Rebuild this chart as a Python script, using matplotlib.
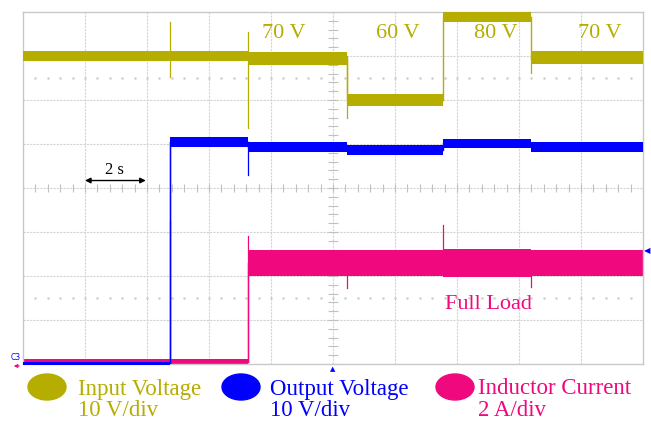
import numpy as np
import matplotlib.pyplot as plt
from matplotlib.patches import Ellipse, FancyArrowPatch

# ---- data ----
# time base 2 s/div, Vin and Vout 10 V/div, iL 2 A/div
t_edges = [0.0, 4.74, 7.26, 10.45, 13.55, 16.39, 20.0]

vin_level = [70.0, 70.0, 69.4, 60.0, 78.8, 69.6]      # V
vin_band = [1.2, 1.2, 1.5, 1.3, 1.1, 1.5]
vout_level = [0.0, 50.4, 49.3, 48.7, 50.2, 49.3]     # V
vout_band = [0.4, 1.1, 1.1, 1.1, 1.0, 1.1]
il_level = [0.1, 0.1, 4.6, 4.6, 4.6, 4.6]            # A
il_band = [0.15, 0.15, 0.6, 0.6, 0.65, 0.6]

# (time, low, high) transient spikes
vin_spikes = [(4.74, 65.2, 77.7), (7.26, 53.6, 75.5), (10.45, 55.9, 70.0), (16.39, 66.1, 70.0)]
vout_spikes = [(4.74, 0.0, 50.4), (7.26, 43.0, 50.4)]
il_spikes = [(4.74, 0.0, 6.5), (7.26, 0.1, 5.8), (13.55, 4.6, 6.3), (10.45, 3.45, 4.6), (16.39, 3.5, 4.6)]

step_labels = ['70 V', '60 V', '80 V', '70 V']
step_label_t = [8.4, 12.1, 15.25, 18.6]

c_in = '#b5ad00'
c_out = '#0000ff'
c_il = '#f0087f'

V_DIV = 10.0
A_DIV = 2.0
T_DIV = 2.0

W, H = 651, 425
fig = plt.figure(figsize=(W / 100, H / 100), dpi=100)
ax = fig.add_axes([23 / W, (H - 364) / H, 620 / W, 352 / H])
ax.set_xlim(0, 10)
ax.set_ylim(0, 8)
ax.set_xticks([])
ax.set_yticks([])
for s in ax.spines.values():
    s.set_color('#c8c8c8')
    s.set_linewidth(1.0)

# graticule
for i in range(1, 10):
    ax.axvline(i, color='#d4d4d4', lw=0.8, ls=(0, (2, 1)), zorder=0)
for j in range(1, 8):
    ax.axhline(j, color='#d4d4d4', lw=0.8, ls=(0, (2, 1)), zorder=0)
minor_x = np.arange(0, 10.01, 0.2)
minor_y = np.arange(0, 8.01, 0.2)
ax.vlines(minor_x, 4 - 0.08, 4 + 0.08, color='#c0c0c0', lw=0.8, zorder=0)
ax.hlines(minor_y, 5 - 0.08, 5 + 0.08, color='#c0c0c0', lw=0.8, zorder=0)
for yy in (1.5, 6.5):
    ax.plot(minor_x[1:-1], np.full(len(minor_x) - 2, yy), ls='none', marker='s', ms=0.8,
            color='#d0d0d0', zorder=0)


def draw_trace(levels, bands, spikes, scale, color, z):
    for k in range(len(levels)):
        x0 = t_edges[k] / T_DIV
        x1 = t_edges[k + 1] / T_DIV
        lo = (levels[k] - bands[k]) / scale
        hi = (levels[k] + bands[k]) / scale
        ax.fill_between([x0, x1], [lo, lo], [hi, hi], color=color, lw=0, zorder=z)
        if k > 0:
            prev = levels[k - 1] / scale
            ax.plot([x0, x0], [prev, levels[k] / scale], color=color, lw=1.0, zorder=z)
    for t, lo, hi in spikes:
        ax.plot([t / T_DIV, t / T_DIV], [lo / scale, hi / scale], color=color, lw=0.9, zorder=z)


draw_trace(il_level, il_band, il_spikes, A_DIV, c_il, 2)
draw_trace(vout_level, vout_band, vout_spikes, V_DIV, c_out, 3)
draw_trace(vin_level, vin_band, vin_spikes, V_DIV, c_in, 4)

serif = ['Liberation Serif', 'DejaVu Serif']
for lab, t in zip(step_labels, step_label_t):
    ax.text(t / T_DIV, 7.5, lab, color=c_in, fontsize=16, family=serif,
            ha='center', va='center', zorder=5)

ax.text(7.5, 1.35, 'Full Load', color=c_il, fontsize=16, family=serif,
        ha='center', va='center', zorder=5)

# 2 s scale arrow
ax.annotate('', xy=(1.0, 4.17), xytext=(1.98, 4.17),
            arrowprops=dict(arrowstyle='<|-|>', color='black', lw=1.0,
                            mutation_scale=8, shrinkA=0, shrinkB=0), zorder=6)
ax.text(1.48, 4.42, '2 s', fontsize=12, family=serif, ha='center', va='center')

# scope markers
fig.text(333 / W, 1 - 369 / H, '\u25b2', color=c_out, fontsize=5, ha='center', va='center')
fig.text(647 / W, 1 - 251 / H, '\u25c0', color=c_out, fontsize=6, ha='center', va='center')
fig.text(16 / W, 1 - 358 / H, 'C3', color=c_out, fontsize=5.5, ha='center', va='center')
fig.add_artist(FancyArrowPatch((22 / W, 1 - 366 / H), (11 / W, 1 - 366 / H),
                               transform=fig.transFigure, arrowstyle='-|>',
                               mutation_scale=5, color=c_il, lw=0.8))

# legend below the screen
legend_items = [
    ('Input Voltage', '10 V/div', c_in, 47, 78),
    ('Output Voltage', '10 V/div', c_out, 241, 270),
    ('Inductor Current', '2 A/div', c_il, 455, 478),
]
for name, scale_txt, col, cx, tx in legend_items:
    fig.add_artist(Ellipse((cx / W, 1 - 387 / H), 38 / W, 26 / H,
                           transform=fig.transFigure, color=col))
    fig.text(tx / W, 1 - 389 / H, name, color=col, fontsize=16.5, family=serif,
             ha='left', va='center')
    fig.text(tx / W, 1 - 411 / H, scale_txt, color=col, fontsize=16.5, family=serif,
             ha='left', va='center')

plt.savefig('out.png', dpi=100)
